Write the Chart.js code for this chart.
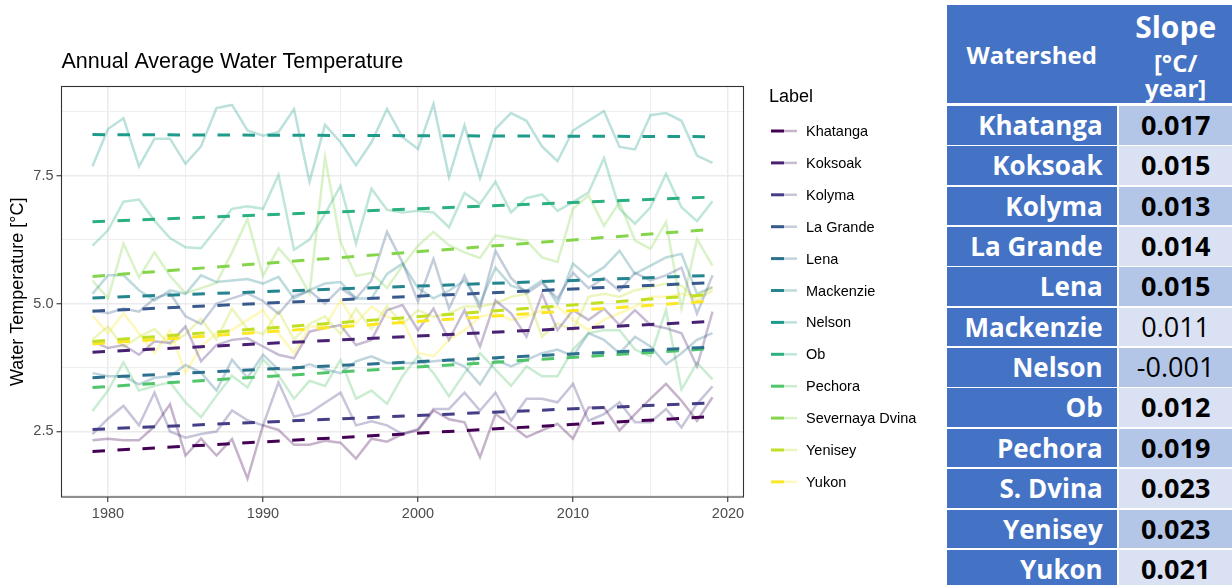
<!DOCTYPE html>
<html>
<head>
<meta charset="utf-8">
<script src="https://cdn.jsdelivr.net/npm/chart.js@4.4.1/dist/chart.umd.min.js"></script>
<style>
  html, body { margin: 0; padding: 0; background: #ffffff; width: 1232px; height: 585px; overflow: hidden; }
  #wrap { position: relative; width: 1232px; height: 585px; }
  #chart { position: absolute; left: 0; top: 0; }
  #slopeTable div { position: absolute; box-sizing: border-box; font-family: "Open Sans", sans-serif; white-space: nowrap; }
</style>
</head>
<body>
<div id="wrap">
  <canvas id="chart" width="940" height="585"></canvas>
  <div id="slopeTable"></div>
</div>
<script>
// ---- data ---------------------------------------------------------------
const years = [1979, 1980, 1981, 1982, 1983, 1984, 1985, 1986, 1987, 1988, 1989,
  1990, 1991, 1992, 1993, 1994, 1995, 1996, 1997, 1998, 1999,
  2000, 2001, 2002, 2003, 2004, 2005, 2006, 2007, 2008, 2009,
  2010, 2011, 2012, 2013, 2014, 2015, 2016, 2017, 2018, 2019];

const watersheds = ["Khatanga", "Koksoak", "Kolyma", "La Grande", "Lena", "Mackenzie",
  "Nelson", "Ob", "Pechora", "Severnaya Dvina", "Yenisey", "Yukon"];
const tableNames = ["Khatanga", "Koksoak", "Kolyma", "La Grande", "Lena", "Mackenzie",
  "Nelson", "Ob", "Pechora", "S. Dvina", "Yenisey", "Yukon"];

// annual average water temperature, °C
const khatanga = [2.33, 2.36, 2.33, 2.33, 2.60, 3.03, 2.03, 2.36, 2.03, 2.35, 1.58, 2.62, 2.53, 2.24, 2.24, 2.32, 2.28, 1.97, 2.36, 2.30, 2.45,
  2.52, 2.91, 2.74, 2.68, 2.00, 2.84, 2.62, 2.39, 2.52, 2.65, 2.36, 2.97, 2.97, 2.52, 2.84, 3.14, 3.43, 3.10, 2.71, 3.17];
const koksoak = [4.26, 4.13, 4.19, 4.00, 4.26, 4.23, 4.55, 3.87, 4.19, 4.29, 4.32, 4.16, 4.00, 3.93, 4.45, 4.52, 4.58, 4.19, 4.29, 4.87, 4.97,
  4.48, 4.90, 4.29, 4.87, 4.16, 5.06, 4.81, 4.35, 5.19, 4.48, 4.87, 4.68, 4.90, 4.58, 4.87, 4.58, 4.52, 4.42, 3.77, 4.84];
const kolyma = [2.45, 2.75, 3.00, 2.62, 3.26, 2.50, 2.38, 2.45, 2.50, 2.91, 2.72, 2.62, 3.46, 2.79, 2.86, 3.06, 3.26, 2.62, 2.70, 2.62, 2.45,
  2.55, 2.94, 2.94, 3.26, 2.91, 3.26, 2.71, 3.14, 3.14, 3.07, 3.43, 2.71, 2.84, 3.07, 2.68, 2.68, 2.94, 2.58, 3.04, 3.38];
const laGrande = [4.87, 4.81, 4.90, 4.84, 5.10, 5.20, 4.75, 4.60, 5.00, 5.10, 5.20, 5.05, 4.80, 5.15, 5.25, 5.00, 5.30, 5.10, 5.45, 6.40, 5.80,
  5.04, 5.87, 4.90, 5.55, 4.90, 6.03, 5.50, 5.20, 5.40, 5.10, 5.60, 5.30, 5.50, 5.25, 5.60, 5.45, 5.55, 5.70, 4.80, 5.55];
const lena = [3.64, 3.58, 3.58, 3.42, 3.55, 3.58, 3.80, 3.65, 3.30, 3.90, 3.55, 4.00, 3.71, 3.71, 3.81, 3.71, 3.64, 3.87, 3.97, 3.84, 3.84,
  3.84, 3.87, 3.90, 3.77, 3.42, 3.90, 3.77, 3.90, 4.03, 4.10, 3.97, 4.42, 4.29, 4.03, 4.35, 4.16, 3.81, 4.03, 4.29, 4.42];
const mackenzie = [5.19, 5.55, 5.55, 5.26, 5.06, 5.26, 5.19, 5.55, 5.42, 5.45, 5.48, 5.39, 5.52, 5.10, 5.26, 5.39, 5.42, 5.10, 5.10, 5.58, 5.78,
  5.30, 5.10, 5.25, 5.45, 5.00, 5.70, 5.35, 5.25, 5.45, 5.00, 5.78, 5.52, 5.71, 6.03, 5.58, 5.74, 5.90, 5.97, 5.19, 5.32];
const nelson = [7.68, 8.41, 8.62, 7.68, 8.22, 8.22, 7.73, 8.07, 8.82, 8.88, 8.38, 8.28, 8.35, 8.80, 7.38, 8.49, 8.15, 7.70, 8.15, 8.80, 8.25,
  8.02, 8.90, 7.47, 8.48, 7.45, 8.41, 8.72, 8.57, 8.07, 7.78, 8.38, 8.57, 8.76, 8.06, 8.01, 8.68, 8.72, 8.57, 7.89, 7.75];
const ob = [6.13, 6.43, 6.99, 7.03, 6.62, 6.28, 6.10, 6.08, 6.46, 6.85, 6.90, 6.85, 7.51, 6.05, 6.25, 6.75, 7.30, 6.17, 7.24, 6.83, 6.78,
  6.81, 6.78, 6.49, 7.16, 6.95, 7.38, 6.78, 7.06, 7.13, 6.81, 6.98, 7.17, 7.84, 6.85, 6.56, 6.88, 7.53, 6.88, 6.61, 7.00];
const pechora = [2.90, 3.30, 3.85, 3.30, 3.39, 3.46, 3.07, 2.78, 3.20, 3.59, 3.36, 3.91, 3.60, 3.14, 3.49, 3.39, 3.90, 3.14, 3.30, 3.04, 3.58,
  3.97, 3.64, 3.19, 3.64, 4.03, 3.71, 3.39, 3.77, 3.58, 3.58, 4.10, 4.42, 4.48, 4.48, 4.10, 3.97, 4.87, 3.32, 3.84, 3.52];
const sevDvina = [5.45, 5.10, 6.17, 5.51, 6.00, 5.54, 5.20, 5.30, 5.40, 6.00, 6.65, 5.54, 6.08, 5.74, 5.20, 7.86, 6.20, 5.54, 5.60, 5.30, 5.74,
  6.13, 6.40, 6.14, 6.00, 5.89, 6.33, 6.28, 6.23, 5.90, 5.81, 6.85, 7.11, 6.52, 6.98, 6.23, 6.07, 6.59, 4.90, 6.26, 5.74];
const yenisey = [4.30, 4.55, 4.15, 4.35, 4.50, 4.20, 4.40, 4.70, 4.30, 4.90, 4.50, 4.40, 4.85, 4.30, 4.60, 4.75, 4.40, 4.90, 4.50, 4.95, 4.60,
  4.87, 4.74, 4.81, 4.94, 4.94, 5.00, 5.13, 5.19, 4.35, 4.61, 4.48, 5.13, 5.19, 5.13, 5.26, 5.32, 5.39, 5.35, 5.06, 5.26];
const yukon = [4.76, 4.42, 4.81, 4.42, 4.03, 4.48, 3.64, 4.16, 4.42, 4.48, 4.68, 4.87, 4.42, 4.03, 4.55, 4.55, 5.06, 4.61, 4.94, 4.74, 4.68,
  4.03, 3.97, 4.29, 4.48, 4.74, 4.81, 4.68, 4.74, 4.87, 4.94, 4.68, 4.48, 4.68, 4.81, 4.94, 5.13, 5.13, 5.19, 5.13, 5.32];

const series = [khatanga, koksoak, kolyma, laGrande, lena, mackenzie, nelson, ob, pechora, sevDvina, yenisey, yukon];

// linear trend: fitted value in 1979 and slope [°C/year]
const trendStart = [2.11, 4.05, 2.54, 4.85, 3.55, 5.11, 8.30, 6.60, 3.36, 5.53, 4.26, 4.21];
const slopes = [0.017, 0.015, 0.013, 0.014, 0.015, 0.011, -0.001, 0.012, 0.019, 0.023, 0.023, 0.021];
const significant = [true, true, true, true, true, false, false, true, true, true, true, true];

const xTicks = [1980, 1985, 1990, 1995, 2000, 2005, 2010, 2015, 2020];
const yTicks = [1.25, 2.5, 3.75, 5.0, 6.25, 7.5, 8.75];

// ---- styling ------------------------------------------------------------
const viridis = ["#440154", "#482173", "#433E85", "#38598C", "#2D708E", "#25858E",
  "#1E9B8A", "#2BB07F", "#51C56A", "#85D54A", "#C2DF23", "#FDE725"];
function fade(hex, a) {
  const n = parseInt(hex.slice(1), 16);
  return `rgba(${(n >> 16) & 255},${(n >> 8) & 255},${n & 255},${a})`;
}
const RAW_ALPHA = 0.3;
const FONT = '"Liberation Sans", Arial, sans-serif';

// trend lines first so they are painted above the yearly lines
const datasets = [];
watersheds.forEach((name, i) => {
  const y0 = years[0], y1 = years[years.length - 1];
  datasets.push({
    label: name + " trend",
    data: [{ x: y0, y: trendStart[i] }, { x: y1, y: trendStart[i] + slopes[i] * (y1 - y0) }],
    borderColor: viridis[i], borderWidth: 3, borderDash: [12.5, 12.5],
    pointRadius: 0, tension: 0, fill: false
  });
});
watersheds.forEach((name, i) => {
  datasets.push({
    label: name,
    data: years.map((yr, j) => ({ x: yr, y: series[i][j] })),
    borderColor: fade(viridis[i], RAW_ALPHA), borderWidth: 2.5,
    pointRadius: 0, tension: 0, fill: false
  });
});

// title, panel border and legend
const decor = {
  id: "decor",
  afterDraw(chart) {
    const { ctx, chartArea: a } = chart;
    ctx.save();
    ctx.strokeStyle = "#333333";
    ctx.lineWidth = 1.1;
    ctx.strokeRect(a.left, a.top, a.right - a.left, a.bottom - a.top);

    ctx.fillStyle = "#000000";
    ctx.font = `21.5px ${FONT}`;
    ctx.textBaseline = "middle";
    ctx.textAlign = "left";
    ctx.fillText("Annual Average Water Temperature", a.left, 62);

    ctx.font = `18px ${FONT}`;
    ctx.fillText("Label", 769, 97);
    ctx.font = `14.5px ${FONT}`;
    watersheds.forEach((name, i) => {
      const y = 131 + i * 31.9;
      ctx.lineCap = "butt";
      ctx.strokeStyle = fade(viridis[i], RAW_ALPHA);
      ctx.lineWidth = 2.5;
      ctx.beginPath(); ctx.moveTo(784, y); ctx.lineTo(797, y); ctx.stroke();
      ctx.strokeStyle = viridis[i];
      ctx.lineWidth = 3;
      ctx.beginPath(); ctx.moveTo(771, y); ctx.lineTo(784, y); ctx.stroke();
      ctx.fillStyle = "#000000";
      ctx.fillText(name, 806, y + 1);
    });
    ctx.restore();
  }
};

const gridColor = "#EBEBEB";
new Chart(document.getElementById("chart"), {
  type: "line",
  data: { datasets },
  options: {
    responsive: false,
    animation: false,
    devicePixelRatio: 1,
    layout: { padding: { left: 0, top: 86.5, right: 196.5, bottom: 0 } },
    plugins: { legend: { display: false }, tooltip: { enabled: false }, title: { display: false } },
    scales: {
      x: {
        type: "linear", min: 1977, max: 2021,
        afterBuildTicks: s => { s.ticks = xTicks.map(v => ({ value: v })); },
        afterFit: s => { s.height = 88; },
        border: { display: false },
        grid: {
          color: gridColor,
          lineWidth: c => (c.tick && c.tick.value % 10 === 0 ? 1.5 : 0.8),
          tickColor: c => (c.tick && c.tick.value % 10 === 0 ? "#333333" : "rgba(0,0,0,0)"),
          tickLength: 5, tickWidth: 1.1
        },
        ticks: {
          autoSkip: false, maxRotation: 0, padding: 3,
          color: "#4D4D4D", font: { family: FONT, size: 14.5 },
          callback: v => (v % 10 === 0 ? String(v) : "")
        }
      },
      y: {
        type: "linear", min: 1.22, max: 9.24,
        afterBuildTicks: s => { s.ticks = yTicks.map(v => ({ value: v })); },
        afterFit: s => { s.width = 61.5; },
        border: { display: false },
        grid: {
          color: gridColor,
          lineWidth: c => (c.tick && c.tick.value % 2.5 === 0 ? 1.5 : 0.8),
          tickColor: c => (c.tick && c.tick.value % 2.5 === 0 ? "#333333" : "rgba(0,0,0,0)"),
          tickLength: 5, tickWidth: 1.1
        },
        ticks: {
          padding: 3, color: "#4D4D4D", font: { family: FONT, size: 14.5 },
          callback: v => (v % 2.5 === 0 ? v.toFixed(1) : "")
        },
        title: {
          display: true, text: "Water Temperature [°C]", color: "#000000",
          font: { family: FONT, size: 18 }, padding: { top: 7, bottom: 0 }
        }
      }
    }
  },
  plugins: [decor]
});

// ---- slope table --------------------------------------------------------
(function buildTable() {
  const host = document.getElementById("slopeTable");
  const BLUE = "#4472C4", LIGHT1 = "#B4C6E7", LIGHT2 = "#D9E1F2";
  const left = 946.7, split = 1116.7, valLeft = 1119.3, right = 1232;
  function box(x, y, w, h, style, text) {
    const d = document.createElement("div");
    d.style.left = x + "px"; d.style.top = y + "px";
    d.style.width = w + "px"; d.style.height = h + "px";
    Object.assign(d.style, style);
    if (text !== undefined) d.textContent = text;
    host.appendChild(d);
    return d;
  }
  box(left, 5, right - left, 98.3, { background: BLUE });
  const headText = { color: "#ffffff", fontWeight: "700", textAlign: "center" };
  box(left, 38, split - left, 34, Object.assign({ fontSize: "24px", lineHeight: "34px" }, headText), "Watershed");
  box(valLeft, 8, right - valLeft, 38, Object.assign({ fontSize: "30px", lineHeight: "38px" }, headText), "Slope");
  box(valLeft, 47, right - valLeft, 32, Object.assign({ fontSize: "24px", lineHeight: "32px" }, headText), "[°C/");
  box(valLeft, 72, right - valLeft, 32, Object.assign({ fontSize: "24px", lineHeight: "32px" }, headText), "year]");

  const rowTop = 106, pitch = 40.35, rowH = 38.5;
  tableNames.forEach((name, i) => {
    const y = rowTop + i * pitch;
    box(left, y, split - left, rowH, {
      background: BLUE, color: "#ffffff", fontWeight: "700", fontSize: "26px",
      lineHeight: rowH + "px", textAlign: "right", paddingRight: "14px"
    }, name);
    box(valLeft, y, right - valLeft, rowH, {
      background: i % 2 === 0 ? LIGHT1 : LIGHT2, color: "#000000",
      fontWeight: significant[i] ? "700" : "400", fontSize: "27px",
      lineHeight: rowH + "px", textAlign: "center"
    }, slopes[i].toFixed(3));
  });
})();
</script>
</body>
</html>
